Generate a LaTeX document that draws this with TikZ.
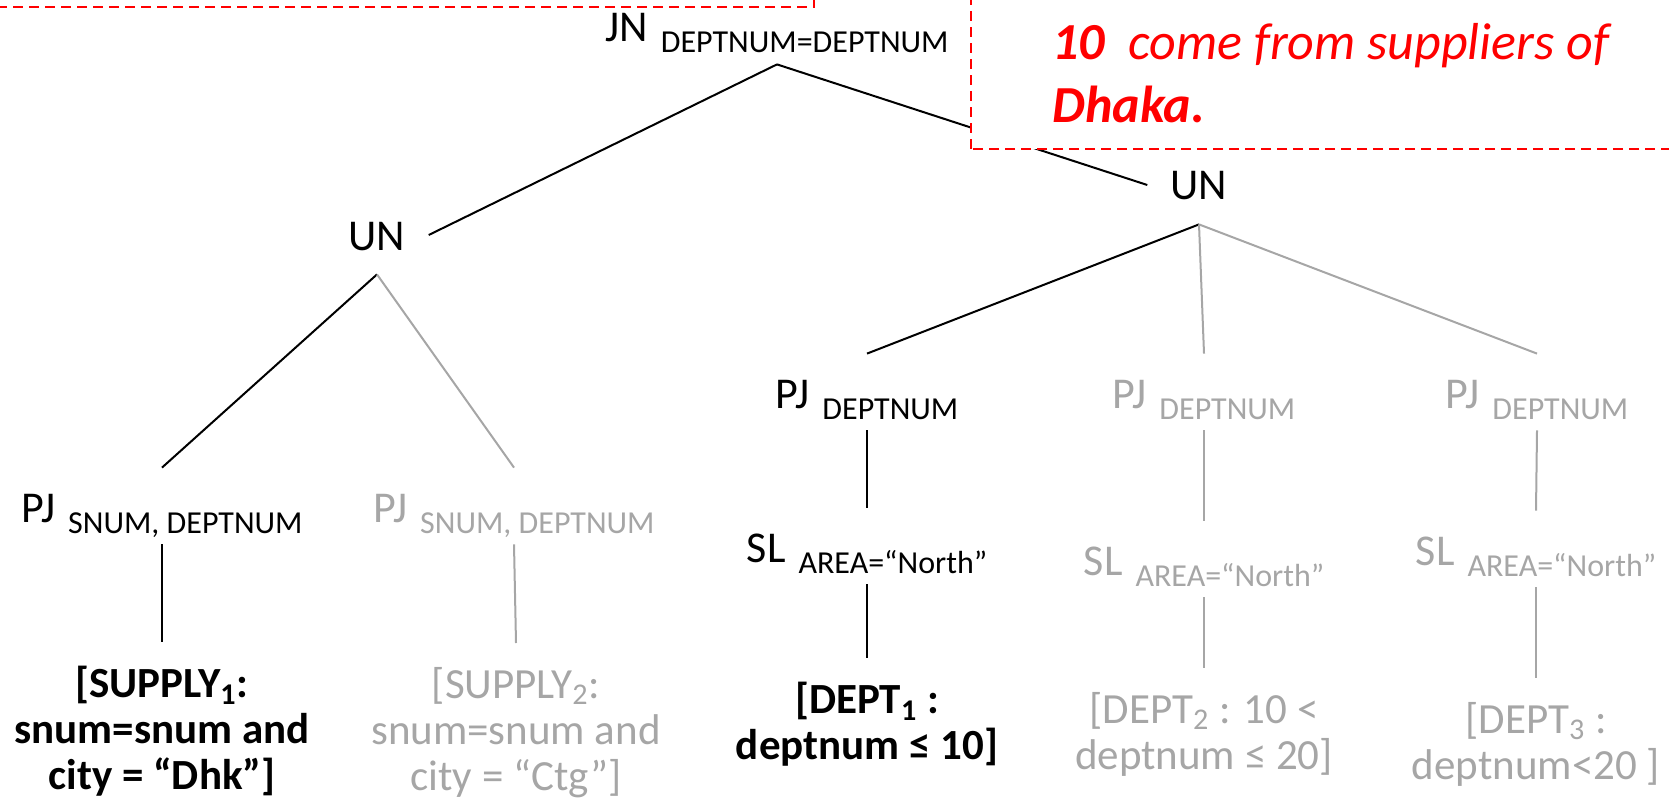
\documentclass[tikz,border=0pt]{standalone}
\usepackage{fontspec}
\setmainfont{Carlito}

\definecolor{faded}{gray}{0.65}

% operator with its condition set lower and smaller
\newcommand{\opsub}[1]{\hspace{6.5pt}\raisebox{-5.5pt}{\fontsize{16}{19}\selectfont #1}}

\tikzset{
  op/.style={inner sep=0pt, anchor=base, text height=27pt, text depth=11pt,
    font=\fontsize{22}{26}\selectfont},
  un/.style={op, text depth=12pt, inner xsep=11.5pt},
  frag/.style={inner xsep=0pt, inner ysep=12pt, anchor=north, align=center,
    font=\fontsize{21.5}{23}\selectfont},
  kept/.style={font=\fontsize{21.5}{23}\selectfont\bfseries},
  off/.style={text=faded},
  link/.style={line width=1pt},
  offlink/.style={link, draw=faded},
  note/.style={draw=red, line width=1.4pt, dash pattern=on 5pt off 3pt, fill=white},
  notetext/.style={inner sep=0pt, anchor=base west, text=red,
    font=\fontsize{26}{32}\selectfont\itshape}
}

\begin{document}
\begin{tikzpicture}[x=0.5pt,y=-0.5pt]
\useasboundingbox (0,0) rectangle (1669,802);
            % Operators
\node[op] (jn) at (777,42) {JN\opsub{DEPTNUM=DEPTNUM}};
\node[un] (un1) at (377,250) {UN};
\node[un] (un2) at (1199,200) {UN};
\node[op] (pj1) at (162,522) {PJ\opsub{SNUM, DEPTNUM}};
\node[op,off] (pj2) at (514,522) {PJ\opsub{SNUM, DEPTNUM}};
\node[op] (pj3) at (867,408) {PJ\opsub{DEPTNUM}};
\node[op,off] (pj4) at (1204,408) {PJ\opsub{DEPTNUM}};
\node[op,off] (pj5) at (1537,408) {PJ\opsub{DEPTNUM}};
\node[op] (sl3) at (867,562) {SL\opsub{AREA=“North”}};
\node[op,off] (sl4) at (1204,575) {SL\opsub{AREA=“North”}};
\node[op,off] (sl5) at (1536,565) {SL\opsub{AREA=“North”}};
%Fragments
\node[frag,kept] (sup1) at (162,642) {[SUPPLY\textsubscript{1}:\\snum=snum and\\city = “Dhk”]};
\node[frag,off] (sup2) at (516,643) {[SUPPLY\textsubscript{2}:\\snum=snum and\\city = “Ctg”]};
\node[frag,kept] (dept1) at (867,658) {[DEPT\textsubscript{1} :\\deptnum ≤ 10]};
\node[frag,off] (dept2) at (1204,668) {[DEPT\textsubscript{2} : 10 <\\deptnum ≤ 20]};
\node[frag,off] (dept3) at (1536,678) {[DEPT\textsubscript{3} :\\deptnum<20 ]};
%Tree edges
\draw[link] (jn.south) -- (un1.east);
\draw[link] (jn.south) -- (un2.west);
\draw[link] (un1.south) -- (pj1.north);
\draw[offlink] (un1.south) -- (pj2.north);
\draw[link] (pj1.south) -- (sup1.north);
\draw[offlink] (pj2.south) -- (sup2.north);
\draw[link] (un2.south) -- (pj3.north);
\draw[offlink] (un2.south) -- (pj4.north);
\draw[offlink] (un2.south) -- (pj5.north);
\draw[link] (pj3.south) -- (sl3.north);
\draw[offlink] (pj4.south) -- (sl4.north);
\draw[offlink] (pj5.south) -- (sl5.north);
\draw[link] (sl3.south) -- (dept1.north);
\draw[offlink] (sl4.south) -- (dept2.north);
\draw[offlink] (sl5.south) -- (dept3.north);
%Notes
\draw[note] (-20,-40) rectangle (814,7);
\draw[note] (971,149) rectangle (1700,-40);
\node[notetext] (note2) at (1052,60) {\textbf{10}\ \ come from suppliers of};
\node[notetext] (note3) at (1052,123) {\textbf{Dhaka.}};

          \end{tikzpicture}
\end{document}
